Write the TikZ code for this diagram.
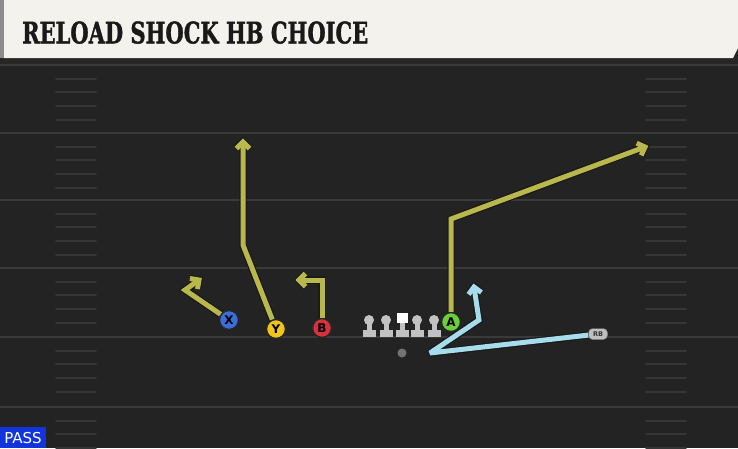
\documentclass[tikz,border=0pt]{standalone}
\usepackage{fontspec}
\setmainfont{DejaVu Sans}
\newfontfamily\titlefont[BoldFeatures={FakeBold=1.5}]{DejaVu Serif}
\usetikzlibrary{arrows.meta,calc}
\definecolor{fieldbg}{HTML}{232323}
\definecolor{fieldline}{HTML}{3A3A3A}
\definecolor{hashc}{HTML}{363636}
\definecolor{titlebg}{HTML}{F4F2EC}
\definecolor{routey}{HTML}{B8B84C}
\definecolor{routeb}{HTML}{A6DCEC}
\definecolor{pX}{HTML}{3A6ED8}
\definecolor{pY}{HTML}{F2C41A}
\definecolor{pB}{HTML}{D8303C}
\definecolor{pA}{HTML}{6ACF3A}
\definecolor{passblue}{HTML}{1234DD}
\definecolor{lineman}{HTML}{C2C2C2}
\newcommand{\chevtip}[3]{%
  \path ($(#1)!6.5pt!(#2)$) coordinate (cb);
  \draw[#3] ($(cb)!6.5pt!90:(#1)$) -- (#1) -- ($(cb)!6.5pt!-90:(#1)$);}
\begin{document}
\begin{tikzpicture}[x=1pt,y=-1pt,
  player/.style={circle,minimum size=19pt,inner sep=0pt,draw=black!85,line width=1.4pt,
     font=\bfseries\fontsize{12}{12}\selectfont},
  routeout/.style={line width=7.4pt,black!90,line join=miter,miter limit=3},
  routein/.style={line width=5pt,line join=miter,miter limit=3},
  hash/.style={hashc,line width=1.8pt,line cap=round}]
\useasboundingbox (0,0) rectangle (738,448);
% background
\fill[fieldbg] (0,0) rectangle (738,448);
\fill[black!85] (0,56) rectangle (738,66);
% yard lines
\foreach \yy in {65,133,200,268,337,407}{
  \draw[fieldline,line width=2.2pt] (0,\yy) -- (738,\yy);
  \foreach \d in {14,27,41,55}{
    \draw[hash] (56,\yy+\d) -- (96,\yy+\d);
    \draw[hash] (646,\yy+\d) -- (686,\yy+\d);
  }
}
% title bar
\fill[black!45] (0,0) rectangle (6,58);
\fill[titlebg] (4,0) -- (738,0) -- (738,48) -- (733,58) -- (4,58) -- cycle;
\node[anchor=south west,inner sep=0pt,text=black!90] (title) at (22,44)
  {\resizebox{346pt}{22pt}{\titlefont\bfseries RELOAD SHOCK HB CHOICE}};
% PASS label
\fill[passblue] (0,427) rectangle (46,448);
\node[text=white,inner sep=0pt,font=\fontsize{15}{15}\selectfont] (pass) at (23,438.5) {PASS};
% linemen
\foreach \lx in {369,386,417,434}{
  \fill[lineman] (\lx-6.5,330) rectangle (\lx+6.5,336.5);
  \fill[lineman] (\lx-2.5,320) rectangle (\lx+2.5,331);
  \fill[lineman] (\lx,320) circle (5);
}
\fill[lineman] (395.5,330) rectangle (408.5,336.5);
\fill[lineman] (399.5,320) rectangle (404.5,331);
\fill[white] (396.5,313) rectangle (407.5,323);
% ball
\fill[black!55] (402,353) circle (4.5);
% players
\node[player,fill=pX] (X) at (229,320) {X};
\node[player,fill=pY] (Y) at (276,329) {Y};
\node[player,fill=pB] (B) at (322,328) {B};
\node[player,fill=pA] (A) at (451,322) {A};
\node[fill=black!25,draw=black!60,rounded corners=4pt,inner sep=0pt,minimum width=19pt,minimum height=11pt,
  font=\bfseries\fontsize{6.5}{6.5}\selectfont,text=black!80] (RB) at (598,334) {RB};
% route points
\coordinate (xb) at (185,290);
\coordinate (xt) at (199,280);
\coordinate (yb) at (243,245);
\coordinate (yt) at (243,142);
\coordinate (bb) at (322,280);
\coordinate (bt) at (299,280);
\coordinate (ab) at (451,219);
\coordinate (at2) at (645,147);
\coordinate (r1) at (430,353);
\coordinate (r2) at (479,320);
\coordinate (rt) at (474,287);
% route outlines
\draw[routeout] (X) -- (xb) -- (xt);
\draw[routeout] (Y) -- (yb) -- (yt);
\draw[routeout] (B) -- (bb) -- (bt);
\draw[routeout] (A) -- (ab) -- (at2);
\draw[routeout] (RB) -- (r1) -- (r2) -- (rt);
\chevtip{xt}{xb}{routeout}
\chevtip{yt}{yb}{routeout}
\chevtip{bt}{bb}{routeout}
\chevtip{at2}{ab}{routeout}
\chevtip{rt}{r2}{routeout}
% route fills
\draw[routein,routey] (X) -- (xb) -- (xt);
\draw[routein,routey] (Y) -- (yb) -- (yt);
\draw[routein,routey] (B) -- (bb) -- (bt);
\draw[routein,routey] (A) -- (ab) -- (at2);
\draw[routein,routeb] (RB) -- (r1) -- (r2) -- (rt);
\chevtip{xt}{xb}{routein,routey}
\chevtip{yt}{yb}{routein,routey}
\chevtip{bt}{bb}{routein,routey}
\chevtip{at2}{ab}{routein,routey}
\chevtip{rt}{r2}{routein,routeb}
\end{tikzpicture}
\end{document}
